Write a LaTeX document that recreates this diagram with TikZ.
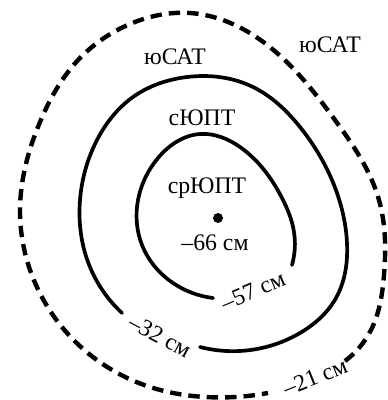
\documentclass[tikz,border=0pt]{standalone}
\usepackage{fontspec}
\setmainfont{Liberation Serif}
\usetikzlibrary{hobby}

\begin{document}
\begin{tikzpicture}[
  x=0.02cm, y=-0.02cm,
  use Hobby shortcut,
  iso/.style={line width=2.1pt, line cap=round},
  border/.style={line width=2.5pt, dash pattern=on 6.5pt off 4pt},
  lbl/.style={font=\fontsize{13.5}{15}\selectfont, inner sep=0pt},
]

\def\R{5}   % dot radius

\useasboundingbox (0,0) rectangle (388,400);

% ── Outer boundary (dashed) ──
\draw[border] (345,361) .. (371,330) .. (384,275) .. (379,200)
  .. (335,120) .. (277,53) .. (190,13) .. (130,24) .. (80,58)
  .. (40,122) .. (20,210) .. (36,285) .. (82,348) .. (150,387)
  .. (205,397) .. (268,393);

% ── Middle isoline ──
\draw[iso] (200,347) .. (300,333) .. (336,298) .. (347,243)
  .. (337,193) .. (300,127) .. (253,87) .. (187,77) .. (133,97)
  .. (97,140) .. (80,200) .. (88,262) .. (122,313);

% ── Inner isoline ──
\draw[iso] (292,265) .. (294,232) .. (282,198) .. (240,147)
  .. (200,134) .. (158,158) .. (138,200) .. (142,245)
  .. (173,283) .. (213,298);

% Centre
\fill (218,218) circle (\R);

% ── Labels ──
\node[lbl] (sat1) at (175,57)  {юСАТ};
\node[lbl] (sat2) at (330,45)  {юСАТ};
\node[lbl] (upt)  at (202,118) {сЮПТ};
\node[lbl] (sr)   at (207,188) {срЮПТ};
\node[lbl] (d66)  at (215,243) {–66 см};
\node[lbl, rotate=23]  (d57) at (253,291) {–57 см};
\node[lbl, rotate=-28] (d32) at (160,336) {–32 см};
\node[lbl, rotate=22]  (d21) at (315,377) {–21 см};

\end{tikzpicture}
\end{document}
